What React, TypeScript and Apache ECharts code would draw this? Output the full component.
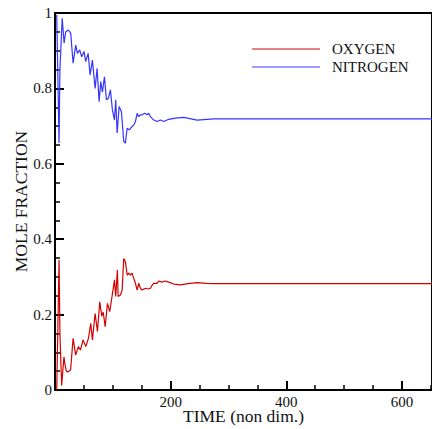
import React, { useEffect, useRef } from "react";
import * as echarts from "echarts";

const seriesNames = ["OXYGEN", "NITROGEN"];
const seriesColors = ["#d40000", "#3535ff"];

const oxygen: [number, number][] = [
  [3, 0.0], [7, 0.345], [8.5, 0.15], [11.5, 0.012], [15.5, 0.088], [17, 0.07],
  [19.5, 0.05], [22, 0.048], [27, 0.053], [31.3, 0.137], [35.7, 0.093], [40.5, 0.115],
  [44, 0.106], [48.6, 0.133], [53.2, 0.115], [57.8, 0.137], [61.8, 0.177], [64.7, 0.133],
  [69.4, 0.203], [73.4, 0.155], [77.4, 0.234], [80.8, 0.196], [83.3, 0.207], [86.8, 0.168],
  [90.7, 0.23], [94.7, 0.208], [99.4, 0.256], [102.8, 0.292], [105, 0.248], [107.9, 0.318],
  [109.2, 0.248], [113.2, 0.252], [116.1, 0.265], [118.9, 0.349], [121.8, 0.34], [124.8, 0.305],
  [127.5, 0.31], [130.4, 0.305], [133.4, 0.31], [136.2, 0.296], [139.1, 0.283], [142, 0.265],
  [144.8, 0.283], [147.7, 0.27], [150.5, 0.265], [156.4, 0.27], [162.1, 0.268], [165, 0.27],
  [168, 0.278], [170.5, 0.283], [176.5, 0.283], [179.4, 0.289], [185.3, 0.286], [189.8, 0.289],
  [196.7, 0.286], [205.4, 0.281], [217, 0.279], [230, 0.282], [245.8, 0.285], [262, 0.283],
  [274.6, 0.282], [320, 0.282], [400, 0.282], [500, 0.282], [600, 0.282], [652, 0.282],
];

const nitrogen: [number, number][] = [
  [3, 0.995], [7, 0.655], [8.5, 0.85], [12.5, 0.986], [15.7, 0.92], [18.5, 0.95],
  [23.2, 0.955], [27.2, 0.946], [31.3, 0.867], [35.8, 0.915], [38.8, 0.893], [42.7, 0.902],
  [46.2, 0.884], [50.3, 0.898], [53.1, 0.871], [57.3, 0.893], [60.7, 0.836], [64.7, 0.875],
  [69.4, 0.8], [72.8, 0.853], [76.3, 0.765], [79.1, 0.818], [82, 0.79], [85.5, 0.831],
  [88.9, 0.77], [92.4, 0.774], [95.8, 0.796], [99.3, 0.743], [102.8, 0.716], [105, 0.77],
  [107.5, 0.682], [110.9, 0.752], [114.9, 0.738], [118.9, 0.659], [121.8, 0.655], [124.7, 0.694],
  [128.7, 0.69], [133.4, 0.699], [136.2, 0.703], [139.1, 0.712], [142, 0.734], [144.8, 0.725],
  [147.8, 0.73], [150.7, 0.73], [155.2, 0.734], [159.3, 0.73], [162.1, 0.734], [165, 0.725],
  [170.8, 0.716], [176.6, 0.712], [182.4, 0.716], [188.1, 0.712], [196.7, 0.718], [208.3, 0.721],
  [222.7, 0.723], [245.8, 0.716], [274.6, 0.719], [320, 0.719], [400, 0.719], [500, 0.719],
  [600, 0.719], [652, 0.719],
];

const xTickInterval = 200;
const yTickInterval = 0.2;

const FONT = "'Liberation Serif', 'Times New Roman', serif";

export default function App() {
  const ref = useRef<HTMLDivElement>(null);
  useEffect(() => {
    if (!ref.current) return;
    const chart = echarts.init(ref.current, null, { renderer: "svg" });
    const axisCommon = {
      axisLine: { show: true, lineStyle: { color: "#000", width: 2 } },
      axisTick: { show: true, inside: true, length: 9, lineStyle: { color: "#000", width: 2 } },
      minorTick: { show: true, splitNumber: 4, length: 5, lineStyle: { color: "#000", width: 1.5 } },
      splitLine: { show: false },
      nameLocation: "middle" as const,
      nameMoveOverlap: false,
      nameTextStyle: { fontFamily: FONT, fontSize: 17.5, color: "#111" },
    };
    const legendGraphics: any[] = [];
    seriesNames.forEach((name, i) => {
      const y = 49 + 18 * i;
      legendGraphics.push({
        type: "line",
        shape: { x1: 252, y1: y, x2: 320, y2: y },
        style: { stroke: seriesColors[i], lineWidth: 1 },
        silent: true,
      });
      legendGraphics.push({
        type: "text",
        x: 332,
        y,
        style: {
          text: name,
          fontFamily: FONT,
          fontSize: 15,
          fill: "#111",
          verticalAlign: "middle",
          align: "left",
        },
        silent: true,
      });
    });
    chart.setOption({
      animation: false,
      backgroundColor: "#fff",
      color: seriesColors,
      textStyle: { fontFamily: FONT },
      grid: {
        left: 55,
        top: 13,
        right: 0,
        bottom: 39,
        show: true,
        borderColor: "#000",
        borderWidth: 2,
        backgroundColor: "transparent",
        containLabel: false,
        outerBoundsMode: "none",
      },
      graphic: legendGraphics,
      xAxis: {
        type: "value",
        min: 0,
        max: 652,
        interval: xTickInterval,
        name: "TIME (non dim.)",
        nameGap: 17,
        ...axisCommon,
        axisLabel: {
          fontFamily: FONT,
          fontSize: 15,
          color: "#111",
          margin: 4,
          showMaxLabel: false,
          formatter: (v: number) => (v === 0 ? "" : String(v)),
        },
      },
      yAxis: {
        type: "value",
        min: 0,
        max: 1,
        interval: yTickInterval,
        name: "MOLE FRACTION",
        nameGap: 25,
        ...axisCommon,
        axisLabel: {
          fontFamily: FONT,
          fontSize: 15,
          color: "#111",
          margin: 3,
        },
      },
      series: [
        {
          name: seriesNames[0],
          type: "line",
          data: oxygen,
          symbol: "none",
          lineStyle: { color: seriesColors[0], width: 1.2 },
          itemStyle: { color: seriesColors[0] },
        },
        {
          name: seriesNames[1],
          type: "line",
          data: nitrogen,
          symbol: "none",
          lineStyle: { color: seriesColors[1], width: 1.2 },
          itemStyle: { color: seriesColors[1] },
        },
      ],
    });
    return () => chart.dispose();
  }, []);
  return (
    <div
      ref={ref}
      style={{ position: "absolute", left: 0, top: 0, width: 432, height: 429 }}
    />
  );
}
